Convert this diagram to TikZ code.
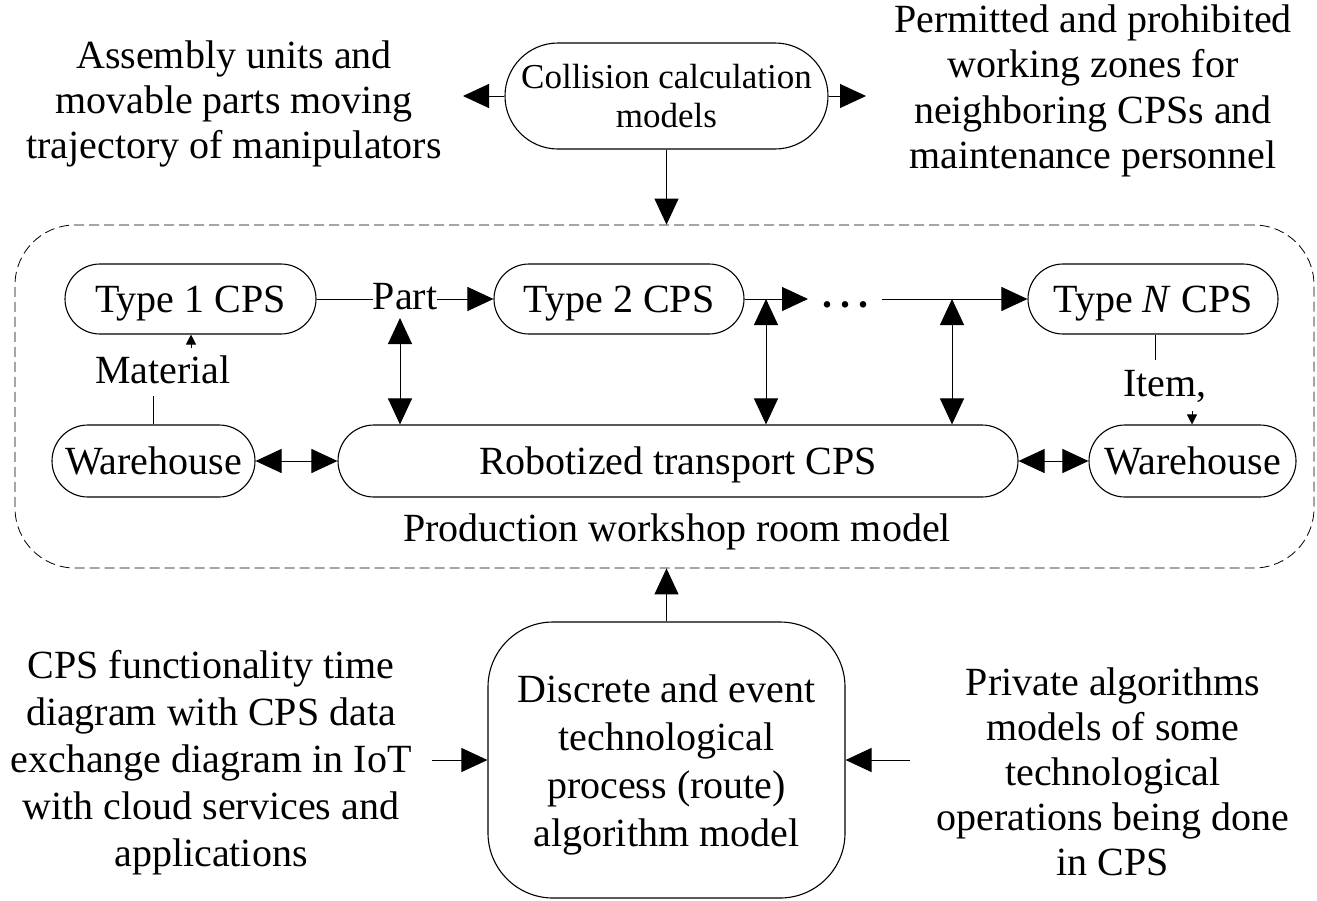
\documentclass[tikz,border=0pt]{standalone}
\usepackage{fontspec}
\setmainfont{Liberation Serif}
\usetikzlibrary{arrows.meta}
\begin{document}
\begin{tikzpicture}[x=1pt,y=-1pt,
  every node/.style={font=\fontsize{40}{46}\selectfont, inner sep=0pt},
  box/.style={draw, line width=1.1pt, align=center},
  sbox/.style={box, text depth=0pt},
  lbl/.style={align=center},
  con/.style={line width=1pt},
  arr/.style={con, -{Triangle[length=26pt,width=24pt]}},
  darr/.style={con, {Triangle[length=26pt,width=24pt]}-{Triangle[length=26pt,width=24pt]}},
  sarr/.style={con, -{Triangle[length=10pt,width=10pt]}}]

\useasboundingbox (0,0) rectangle (1317,900);

% room frame
\node[draw, line width=0.8pt, dash pattern=on 10pt off 5pt, rounded corners=60pt,
      minimum width=1299pt, minimum height=343pt] (room) at (664.5,396.5) {};
\node (roomlbl) at (677,532) {Production workshop room model};

% top
\node[box, rounded corners=53pt, minimum width=323pt, minimum height=106pt,
      font=\fontsize{35}{39}\selectfont] (coll) at (666.5,96) {Collision calculation\\models};
\node[lbl, font=\fontsize{40}{45}\selectfont] (asm) at (234,104)
  {Assembly units and\\movable parts moving\\trajectory of manipulators};
\node[lbl, font=\fontsize{40}{45.5}\selectfont] (perm) at (1093,91)
  {Permitted and prohibited\\working zones for\\neighboring CPSs and\\maintenance personnel};
\coordinate (cl) at (463,96);
\coordinate (cr) at (866,96);
\draw[arr] (coll.west) -- (cl);
\draw[arr] (coll.east) -- (cr);
\draw[arr] (coll.south) -- (coll.south |- room.north);

% inner row
\node[sbox, rounded corners=35pt, minimum width=251pt, minimum height=70pt] (t1) at (190.5,299) {Type 1 CPS};
\node[sbox, rounded corners=35pt, minimum width=250pt, minimum height=70pt] (t2) at (619,299) {Type 2 CPS};
\node[sbox, rounded corners=35pt, minimum width=250pt, minimum height=70pt] (tn) at (1153,299) {Type \textit{N} CPS};
\node (part) at (405,297) {Part};
\node[anchor=base] (dots) at (845,307) {\textbf{.\hspace{8pt}.\hspace{8pt}.}};
\node (mat) at (163,370) {Material};
\node (item) at (1165,386) {Item,};

\node[sbox, rounded corners=36pt, minimum width=203pt, minimum height=72pt] (wh1) at (153.5,461) {Warehouse};
\node[sbox, rounded corners=36pt, minimum width=680pt, minimum height=72pt] (rob) at (678,461) {Robotized transport CPS};
\node[sbox, rounded corners=36pt, minimum width=207pt, minimum height=72pt] (wh2) at (1192.5,461) {Warehouse};

\draw[con] (t1.east) -- (part.west |- t1.east);
\draw[arr] (part.east |- t2.west) -- (t2.west);
\coordinate (d1) at (808,299);
\coordinate (d2) at (882,299);
\draw[arr] (t2.east) -- (d1);
\draw[arr] (d2) -- (tn.west);
\coordinate (p1) at (400,318);
\coordinate (j1) at (766,299);
\coordinate (j2) at (952,299);
\draw[darr] (p1) -- (p1 |- rob.north);
\draw[darr] (j1) -- (j1 |- rob.north);
\draw[darr] (j2) -- (j2 |- rob.north);
\draw[darr] (wh1.east) -- (rob.west);
\draw[darr] (rob.east) -- (wh2.west);

\coordinate (m1) at (191,348);
\coordinate (m2) at (153,396);
\draw[sarr] (m1) -- (m1 |- t1.south);
\draw[con] (m2 |- wh1.north) -- (m2);
\coordinate (i1) at (1155,360);
\coordinate (i2) at (1192,411);
\draw[con] (i1 |- tn.south) -- (i1);
\draw[sarr] (i2) -- (i2 |- wh2.north);

% bottom
\node[box, rounded corners=65pt, minimum width=357pt, minimum height=276pt,
      font=\fontsize{40}{48}\selectfont] (disc) at (666.5,760)
  {\rule{0pt}{37pt}Discrete and event\\technological\\process (route)\\algorithm model};
\node[lbl, font=\fontsize{40}{47}\selectfont] (cpsf) at (211,763)
  {CPS functionality time\\diagram with CPS data\\exchange diagram in IoT\\with cloud services and\\applications};
\node[lbl, font=\fontsize{40}{45}\selectfont] (priv) at (1113,772)
  {Private algorithms\\models of some\\technological\\operations being done\\in CPS};
\coordinate (bl) at (432,760);
\coordinate (br) at (910,760);
\draw[arr] (bl) -- (disc.west);
\draw[arr] (br) -- (disc.east);
\draw[arr] (disc.north) -- (disc.north |- room.south);
\end{tikzpicture}
\end{document}
